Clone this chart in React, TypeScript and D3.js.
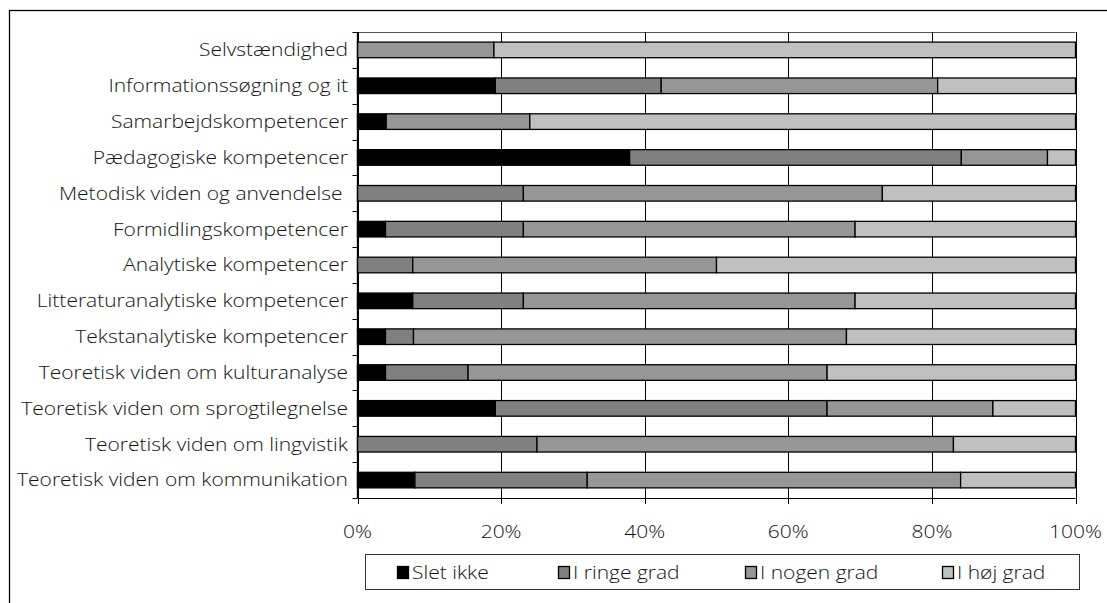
import React from "react";
import * as d3 from "d3";

const categories = [
  "Selvstændighed",
  "Informationssøgning og it",
  "Samarbejdskompetencer",
  "Pædagogiske kompetencer",
  "Metodisk viden og anvendelse ",
  "Formidlingskompetencer",
  "Analytiske kompetencer",
  "Litteraturanalytiske kompetencer",
  "Tekstanalytiske kompetencer",
  "Teoretisk viden om kulturanalyse",
  "Teoretisk viden om sprogtilegnelse",
  "Teoretisk viden om lingvistik",
  "Teoretisk viden om kommunikation",
];

const sletIkke = [0, 19.2, 4, 37.9, 0, 3.9, 0, 7.7, 3.9, 3.9, 19.2, 0, 8];
const iRingeGrad = [0, 23.1, 0, 46.2, 23.1, 19.2, 7.7, 15.4, 3.9, 11.5, 46.2, 25, 24];
const iNogenGrad = [19, 38.5, 20, 12.0, 50, 46.2, 42.3, 46.2, 60.3, 50, 23.1, 58, 52];
const iHoejGrad = [81, 19.2, 76, 3.9, 26.9, 30.7, 50, 30.7, 31.9, 34.6, 11.5, 17, 16];

const seriesNames = ["Slet ikke", "I ringe grad", "I nogen grad", "I høj grad"];
const seriesColors = ["#000000", "#808080", "#969696", "#c0c0c0"];
const xTicks = [0, 20, 40, 60, 80, 100];

const FONT = "'Open Sans', sans-serif";
const FS = 17.5;
const SX = 1.2;

function T({ x, y, anchor, children }: { x: number; y: number; anchor: string; children: React.ReactNode }) {
  return (
    <text
      transform={`translate(${x},${y}) scale(${SX},1)`}
      textAnchor={anchor}
      fontFamily={FONT}
      fontSize={FS}
      fontWeight={300}
      fill="#111"
      style={{ whiteSpace: "pre" }}
    >
      {children}
    </text>
  );
}

export default function App() {
  const W = 1107;
  const H = 603;
  const left = 357.5;
  const right = 1075.5;
  const top = 32;
  const bottom = 498;

  const rows = categories.map((c, i) => ({
    cat: c,
    s0: sletIkke[i],
    s1: iRingeGrad[i],
    s2: iNogenGrad[i],
    s3: iHoejGrad[i],
  }));
  const keys = ["s0", "s1", "s2", "s3"];
  const stacked = d3.stack<any>().keys(keys).offset(d3.stackOffsetExpand)(rows);

  const x = d3.scaleLinear().domain([0, 1]).range([left, right]);
  const y = d3
    .scaleBand<string>()
    .domain(categories)
    .range([top, bottom])
    .paddingInner(0.565)
    .paddingOuter(0.2825);
  const step = y.step();

  const legendItems = [
    { sq: 397, tx: 412 },
    { sq: 558, tx: 573 },
    { sq: 745, tx: 760 },
    { sq: 942, tx: 957 },
  ];

  return (
    <svg
      width={W}
      height={H}
      style={{ position: "absolute", left: 0, top: 0, background: "#fff" }}
    >
      <rect x={0} y={0} width={W} height={H} fill="#fff" />
      {/* outer chart border */}
      <rect x={9.5} y={10.5} width={1099} height={620} fill="none" stroke="#000" strokeWidth={1.3} />

      {/* plot area top edge */}
      <line x1={left} x2={right} y1={top + 0.5} y2={top + 0.5} stroke="#555" strokeWidth={1} />

      {/* gridlines */}
      {xTicks.map((t) => (
        <line
          key={"g" + t}
          x1={Math.round(x(t / 100)) + 0.5}
          x2={Math.round(x(t / 100)) + 0.5}
          y1={top}
          y2={bottom + 6}
          stroke="#000"
          strokeWidth={1}
        />
      ))}

      {/* bars */}
      {stacked.map((s, si) =>
        s.map((d, i) => {
          const w = x(d[1]) - x(d[0]);
          if (w <= 0.01) return null;
          return (
            <rect
              key={si + "-" + i}
              x={x(d[0])}
              y={y(categories[i])!}
              width={w}
              height={y.bandwidth()}
              fill={seriesColors[si]}
              stroke="#000"
              strokeWidth={1.3}
            />
          );
        })
      )}

      {/* y axis */}
      <line x1={left} x2={left} y1={top} y2={bottom} stroke="#000" strokeWidth={1.3} />
      {d3.range(categories.length + 1).map((i) => (
        <line
          key={"yt" + i}
          x1={left - 5}
          x2={left}
          y1={Math.round(top + i * step) + 0.5}
          y2={Math.round(top + i * step) + 0.5}
          stroke="#000"
          strokeWidth={1}
        />
      ))}
      {/* x axis */}
      <line x1={left} x2={right} y1={bottom + 0.5} y2={bottom + 0.5} stroke="#000" strokeWidth={1} />

      {/* category labels */}
      {categories.map((c) => (
        <T key={c} x={348} y={y(c)! + y.bandwidth() / 2 + 6.4} anchor="end">
          {c}
        </T>
      ))}

      {/* x tick labels */}
      {xTicks.map((t) => (
        <T key={"xl" + t} x={x(t / 100)} y={538} anchor="middle">
          {t + "%"}
        </T>
      ))}

      {/* legend */}
      <rect x={365.5} y={554.5} width={714} height={35} fill="#fff" stroke="#333" strokeWidth={1} />
      {seriesNames.map((n, i) => (
        <g key={n}>
          <rect
            x={legendItems[i].sq + 0.5}
            y={566.5}
            width={11}
            height={12}
            fill={seriesColors[i]}
            stroke="#000"
            strokeWidth={1.3}
          />
          <T x={legendItems[i].tx} y={578.5} anchor="start">
            {n}
          </T>
        </g>
      ))}
    </svg>
  );
}
